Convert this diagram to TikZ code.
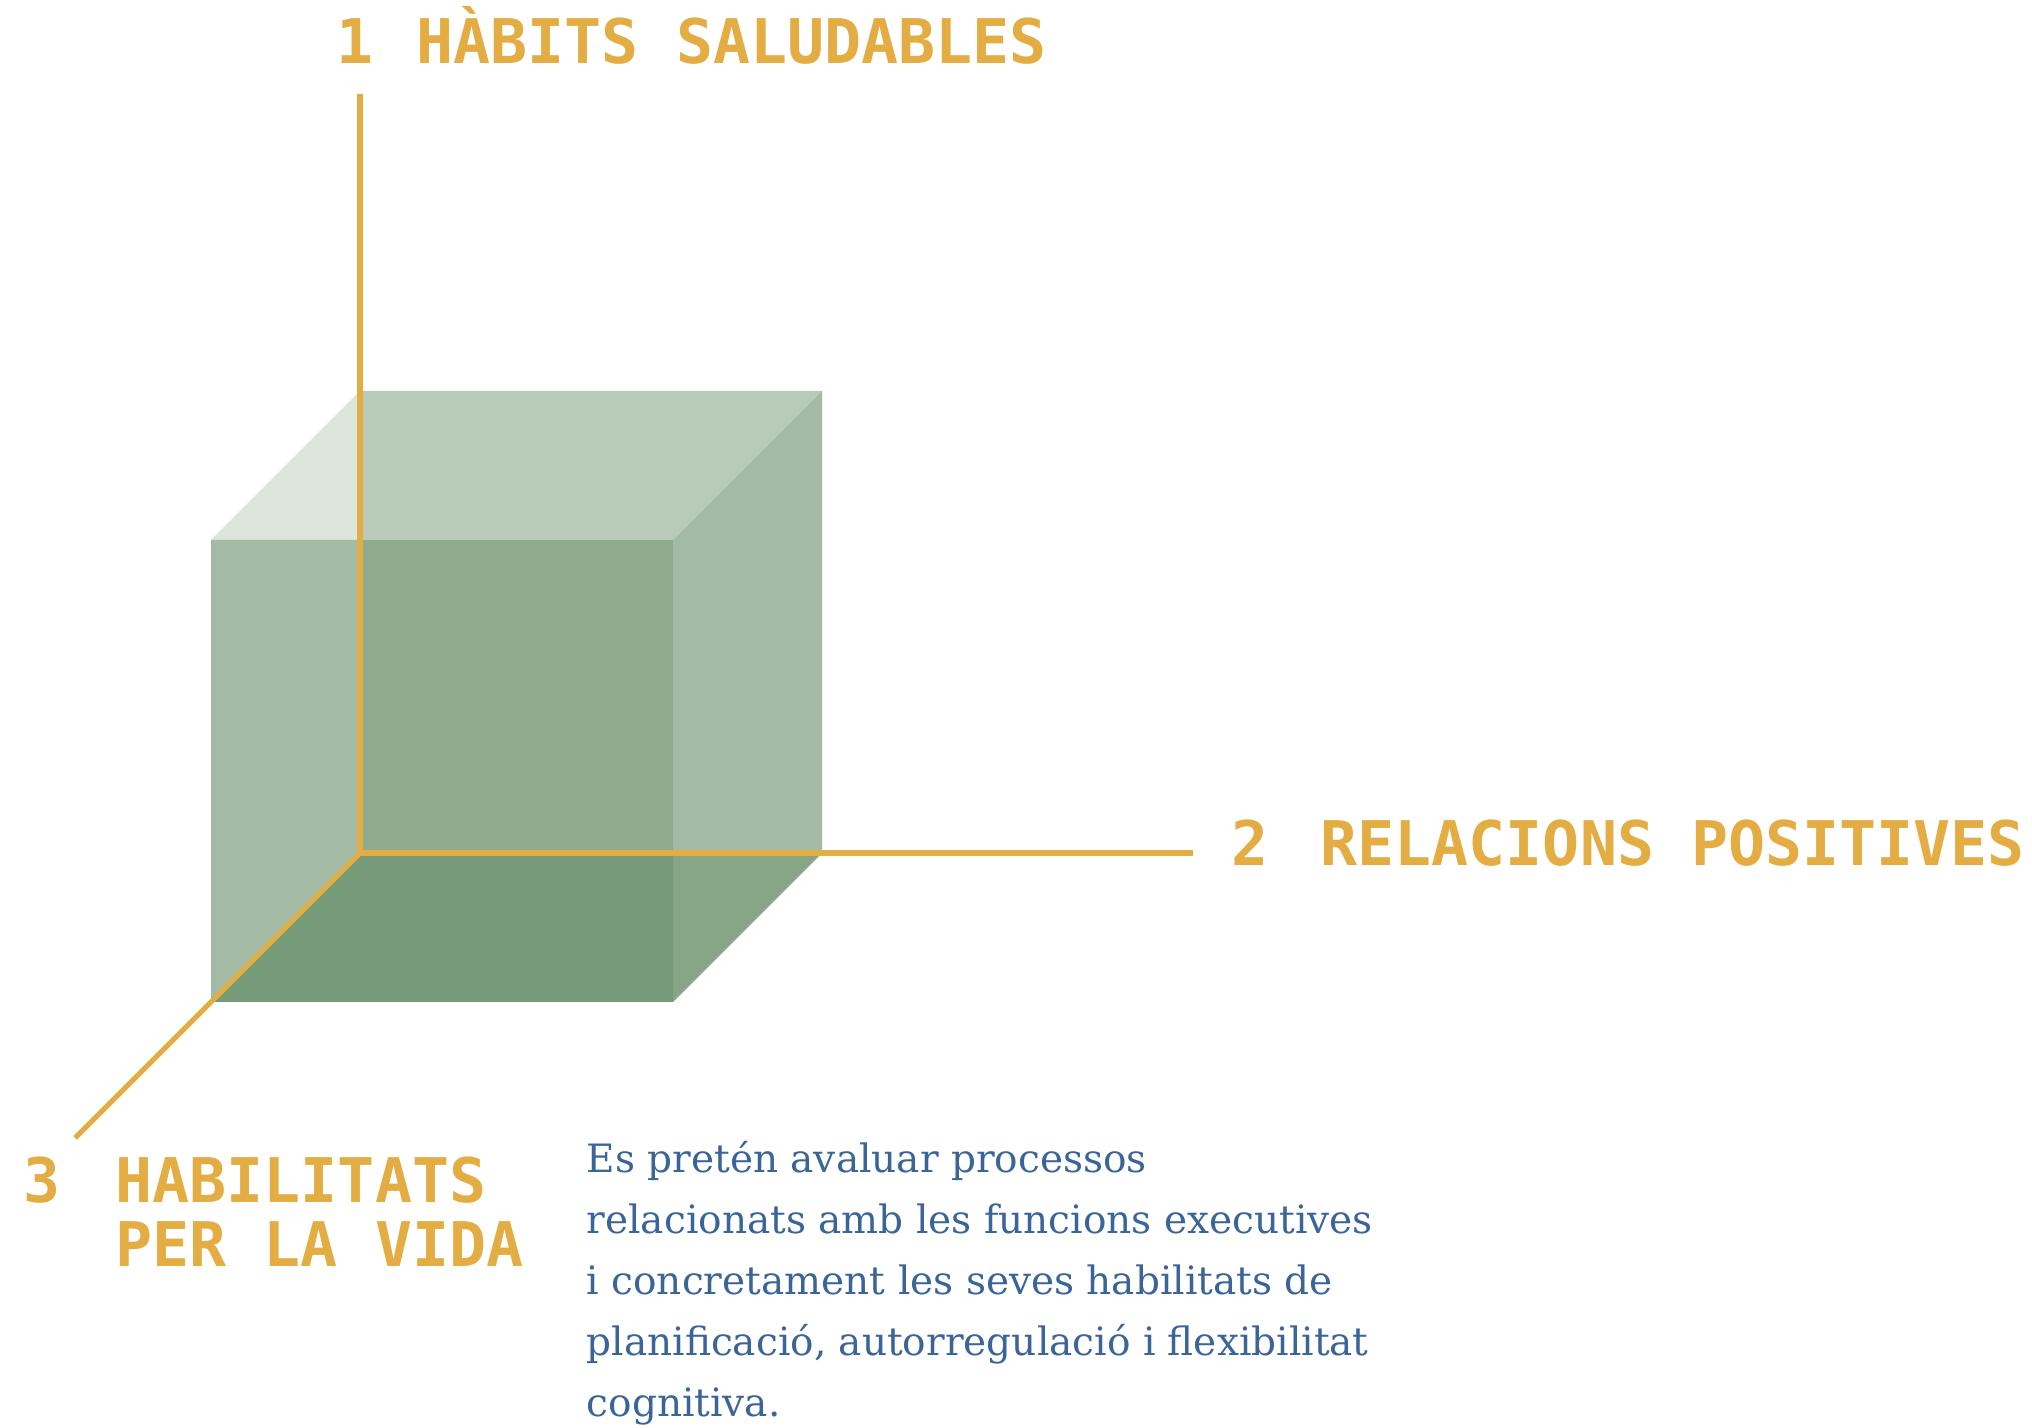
\documentclass[tikz,border=0pt]{standalone}
\usepackage{fontspec}
\setmainfont{DejaVu Serif}
\newfontfamily\monofont{DejaVu Sans Mono}

\definecolor{axisgold}{RGB}{227,173,67}
\definecolor{textblue}{RGB}{59,101,152}
\definecolor{cubepale}{RGB}{220,229,220}
\definecolor{cubetop}{RGB}{184,203,184}
\definecolor{cubeside}{RGB}{163,187,165}
\definecolor{cubemid}{RGB}{142,171,142}
\definecolor{cubecorner}{RGB}{135,166,135}
\definecolor{cubebottom}{RGB}{119,155,122}

\begin{document}
\begin{tikzpicture}[x=0.01cm,y=-0.01cm,
  axis/.style={draw=axisgold, line width=1.45pt},
  axislabel/.style={anchor=base west, inner sep=0pt, text=axisgold, align=left,
    font=\monofont\bfseries\fontsize{17.5}{18.2}\selectfont},
  bodytext/.style={anchor=base west, inner sep=0pt, text=textblue, align=left,
    font=\fontsize{11.1}{17.4}\selectfont}]
  \useasboundingbox (0,0) rectangle (2032,1428);

  % cube corners, front and back
  \coordinate (f1) at (211,540);
  \coordinate (f2) at (673,540);
  \coordinate (f3) at (673,1002);
  \coordinate (f4) at (211,1002);
  \coordinate (b1) at (360,391);
  \coordinate (b2) at (822,391);
  \coordinate (b3) at (822,853);
  \coordinate (b4) at (360,853);

  % draw cube faces
  \fill[cubepale] (f1) -- (b1) -- (360,540) -- cycle;
  \fill[cubetop] (b1) -- (b2) -- (f2) -- (360,540) -- cycle;
  \fill[cubeside] (f2) -- (b2) -- (b3) -- (673,853) -- cycle;
  \fill[cubecorner] (673,853) -- (b3) -- (f3) -- cycle;
  \fill[cubeside] (f1) -- (360,540) -- (b4) -- (f4) -- cycle;
  \fill[cubemid] (360,540) -- (f2) -- (673,853) -- (b4) -- cycle;
  \fill[cubebottom] (b4) -- (673,853) -- (f3) -- (f4) -- cycle;

  % axes
  \coordinate (origin) at (360,853);
  \coordinate (ytop) at (360,94);
  \coordinate (xend) at (1193,853);
  \coordinate (zend) at (75,1138);
  \draw[axis] (ytop) -- (origin) -- (xend);
  \draw[axis] (origin) -- (zend);

  % axis labels (base of a two-line node is its last line)
  \node[axislabel] (num1) at (336,64) {1};
  \node[axislabel] (hab1) at (416,64) {HÀBITS SALUDABLES};
  \node[axislabel] (num2) at (1231,866) {2};
  \node[axislabel] (rel2) at (1320,866) {RELACIONS POSITIVES};
  \node[axislabel] (num3) at (23,1203) {3};
  \node[axislabel] (hab3) at (115,1267) {HABILITATS\\PER LA VIDA};

  % description
  \node[bodytext] (desc) at (586,1417) {Es pretén avaluar processos\\
    relacionats amb les funcions executives\\
    i concretament les seves habilitats de\\
    planificació, autorregulació i flexibilitat\\
    cognitiva.};
\end{tikzpicture}
\end{document}
